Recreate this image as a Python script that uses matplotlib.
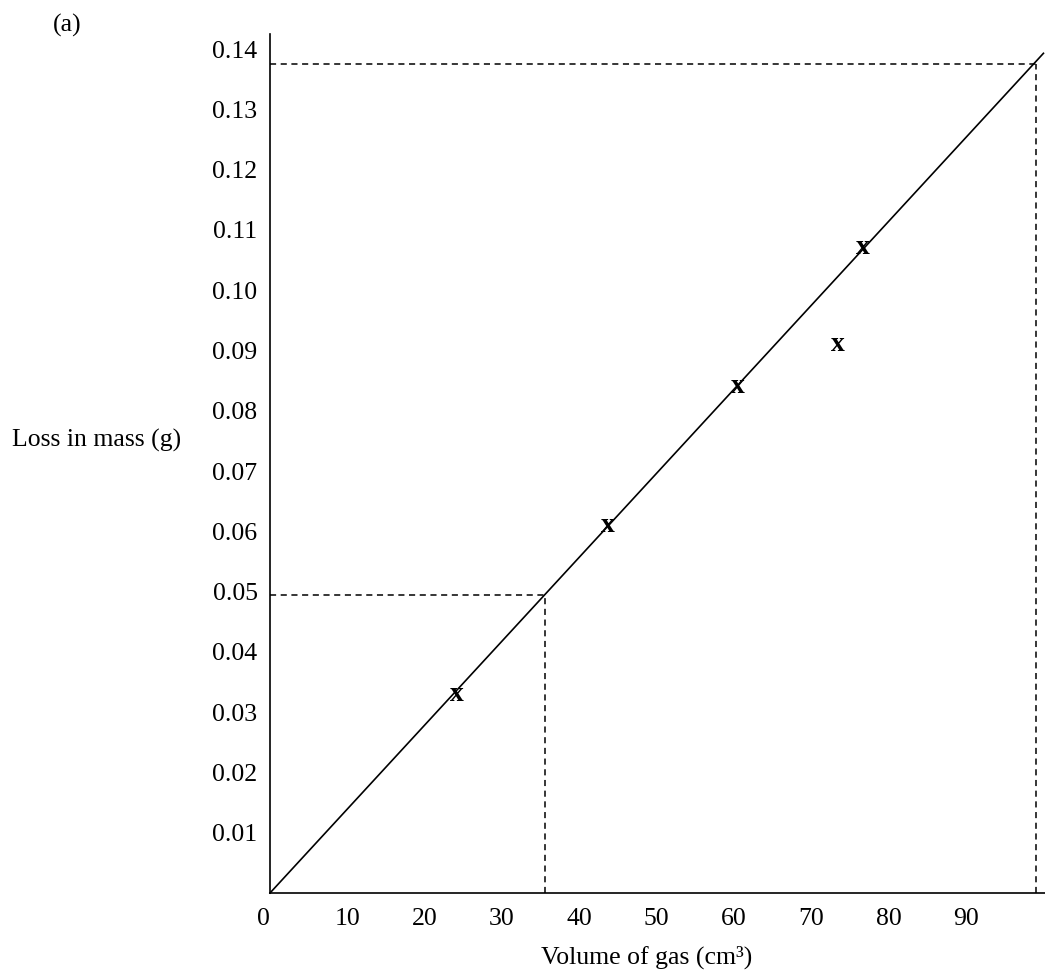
import matplotlib
matplotlib.use('Agg')
import matplotlib.pyplot as plt

plt.rcParams['font.family'] = ['Liberation Serif', 'DejaVu Serif']

# data
volume = [24.2, 43.7, 60.5, 73.4, 76.7]          # cm3
mass_loss = [0.033, 0.061, 0.084, 0.091, 0.107]  # g

# line of best fit through origin
fit_x = [0, 100]
fit_y = [0, 0.1393]

# dashed read-offs
read1_x, read1_y = 35.5, 0.0495
read2_x, read2_y = 99.1, 0.1376

x_ticks = [0, 10, 20, 30, 40, 50, 60, 70, 80, 90]
y_ticks = [0.01, 0.02, 0.03, 0.04, 0.05, 0.06, 0.07,
           0.08, 0.09, 0.10, 0.11, 0.12, 0.13, 0.14]

W, H = 1045, 971
fig = plt.figure(figsize=(W / 100, H / 100), dpi=100)
ax = fig.add_axes([270 / W, 78 / H, 775 / W, 859 / H])
ax.set_xlim(0, 100.2)
ax.set_ylim(0, 0.1425)

for s in ['top', 'right']:
    ax.spines[s].set_visible(False)
for s in ['left', 'bottom']:
    ax.spines[s].set_linewidth(1.2)

ax.set_xticks(x_ticks)
ax.set_xticklabels([str(t) for t in x_ticks])
ax.set_yticks(y_ticks)
ax.set_yticklabels(['%.2f' % t for t in y_ticks])
ax.tick_params(axis='both', length=0, labelsize=18.5)
ax.tick_params(axis='x', pad=11)
ax.tick_params(axis='y', pad=9)
# "0" sits just left of the origin
ax.get_xticklabels()[0].set_horizontalalignment('right')

ax.plot(fit_x, fit_y, color='black', lw=1.2, clip_on=False)

dash = (0, (4, 3))
ax.plot([0, read1_x], [read1_y, read1_y], color='black', lw=1.1, ls=dash)
ax.plot([read1_x, read1_x], [0, read1_y], color='black', lw=1.1, ls=dash)
ax.plot([0, read2_x], [read2_y, read2_y], color='black', lw=1.1, ls=dash)
ax.plot([read2_x, read2_x], [0, read2_y], color='black', lw=1.1, ls=dash)

for vx, my in zip(volume, mass_loss):
    ax.text(vx, my, 'x', fontsize=20, fontweight='bold',
            ha='center', va='center')

fig.text(12 / W, 1 - 440 / H, 'Loss in mass (g)', fontsize=18.5,
         ha='left', va='center')
fig.text(647 / W, 1 - 957 / H, 'Volume of gas (cm³)', fontsize=18.5,
         ha='center', va='center')
fig.text(67 / W, 1 - 25 / H, '(a)', fontsize=18.5, ha='center', va='center')

fig.savefig('out.png', dpi=100)
